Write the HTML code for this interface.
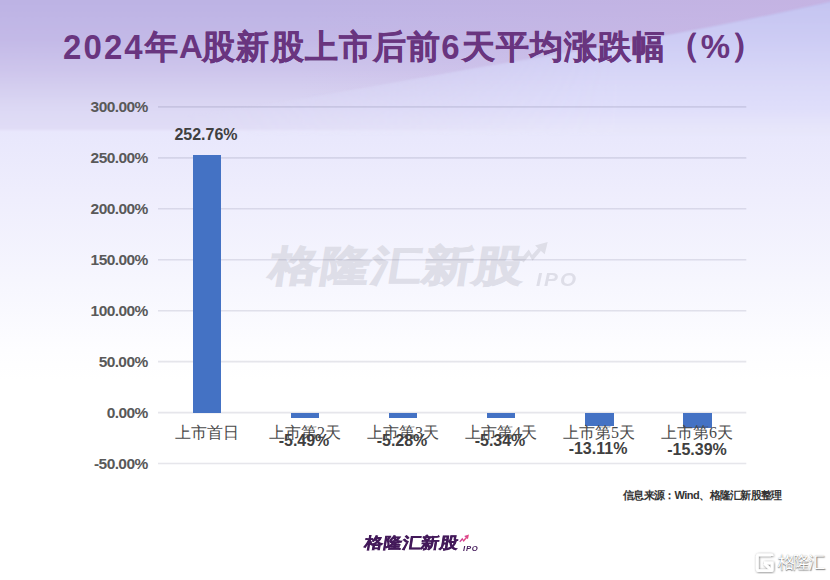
<!DOCTYPE html>
<html><head><meta charset="utf-8">
<style>
html,body{margin:0;padding:0;}
body{width:830px;height:580px;overflow:hidden;position:relative;font-family:"Liberation Sans",sans-serif;
background:linear-gradient(180deg,#e8e7fc 0px,#e8e7fc 130px,#efeefd 200px,#f6f6fe 280px,#fdfdff 350px,#ffffff 380px,#ffffff 580px);}
.abs{position:absolute;}
#bg{position:absolute;left:0;top:0;}
#title{position:absolute;left:63px;top:25px;font-size:33px;font-weight:bold;color:#69357f;white-space:nowrap;letter-spacing:1.15px;-webkit-text-stroke:0.4px #69357f;}
#title span.l{-webkit-text-stroke:0;}
#title span.d{display:inline-block;transform-origin:50% 80%;transform:translateY(0.8px) scaleY(1.07);}
.yl{position:absolute;right:682.4px;font-size:15.5px;letter-spacing:-0.6px;font-weight:bold;color:#595959;text-align:right;white-space:nowrap;line-height:16px;}
.bar{position:absolute;width:28.3px;background:#4472c4;}
.dl{position:absolute;font-size:16px;font-weight:bold;color:#404040;white-space:nowrap;line-height:18px;transform:translateX(-50%);}
.cl{position:absolute;font-family:"Liberation Serif",serif;font-size:16px;color:#4a4a4a;white-space:nowrap;line-height:18px;transform:translateX(-50%);}
#src{position:absolute;left:623px;top:487.5px;font-size:11px;line-height:14px;letter-spacing:-0.7px;font-weight:bold;color:#333;white-space:nowrap;}

.logo{position:absolute;white-space:nowrap;}
.logo .zh{position:absolute;left:0;top:0;font-weight:900;font-size:41.5px;line-height:44px;letter-spacing:0.4px;transform-origin:0 0;transform:skewX(-9deg) scaleX(1.2);}
.logo .ipo{position:absolute;font-weight:bold;font-style:italic;font-size:18.5px;line-height:18px;letter-spacing:2px;transform-origin:0 0;transform:scaleX(1.12);}
#wm{left:274px;top:244px;color:#dedee8;}
#wm .zh{-webkit-text-stroke:1.3px #dedee8;}
#blogo{left:366px;top:534.8px;color:#43195a;transform-origin:0 0;transform:scale(0.37);}
#blogo .zh{-webkit-text-stroke:1.5px #43195a;}
#brw{position:absolute;left:777.5px;top:552.5px;font-size:17px;line-height:20px;color:#fff;font-weight:500;letter-spacing:-1.6px;text-shadow:0.6px 0.6px 1.2px rgba(0,0,0,0.55),0 0 1px rgba(0,0,0,0.25);white-space:nowrap;}
</style></head><body>
<svg id="bg" width="830" height="580">
  <defs>
    <linearGradient id="top" x1="0" y1="0" x2="0" y2="130" gradientUnits="userSpaceOnUse">
      <stop offset="0" stop-color="#bdb3e4"/>
      <stop offset="0.3" stop-color="#c3b9e7"/>
      <stop offset="0.55" stop-color="#cec6ec"/>
      <stop offset="0.83" stop-color="#dcd8f4"/>
      <stop offset="1" stop-color="#e1ddf6"/>
    </linearGradient>
    <linearGradient id="band" x1="0" y1="0" x2="0" y2="130" gradientUnits="userSpaceOnUse">
      <stop offset="0" stop-color="#c4c4f1"/>
      <stop offset="0.3" stop-color="#cdccf4"/>
      <stop offset="0.62" stop-color="#d9d8f8"/>
      <stop offset="0.85" stop-color="#e0dffa"/>
      <stop offset="1" stop-color="#e7e6fa"/>
    </linearGradient>
    <linearGradient id="fade" x1="0" y1="0" x2="830" y2="0" gradientUnits="userSpaceOnUse">
      <stop offset="0.22" stop-color="#000"/>
      <stop offset="0.75" stop-color="#fff"/>
    </linearGradient>
    <linearGradient id="pinkh" x1="300" y1="0" x2="830" y2="0" gradientUnits="userSpaceOnUse">
      <stop offset="0" stop-color="#cbb4e2" stop-opacity="0"/>
      <stop offset="1" stop-color="#cbb4e2" stop-opacity="0.55"/>
    </linearGradient>
    <mask id="bm" maskUnits="userSpaceOnUse" x="0" y="0" width="830" height="140"><rect x="0" y="0" width="830" height="140" fill="url(#fade)"/></mask>
    <filter id="bl" x="-5%" y="-20%" width="110%" height="140%"><feGaussianBlur stdDeviation="1.2"/></filter>
    <filter id="bl2" x="-5%" y="-20%" width="110%" height="140%"><feGaussianBlur stdDeviation="1"/></filter>
  </defs>
  <g filter="url(#bl2)"><rect x="-10" y="-10" width="850" height="140" fill="url(#top)"/></g>
  <path d="M-10,-10 L840,-10 L840,0 L830,2.0 L800,8.5 L770,14.9 L740,21.1 L710,27.1 L680,32.8 L650,38.3 L620,43.6 L590,48.8 L560,53.9 L530,59.0 L500,64.0 L470,69.1 L440,74.4 L410,79.7 L380,85.0 L350,90.3 L320,95.4 L290,100.4 L260,105.0 L230,109.4 L200,113.4 L170,116.9 L140,120.0 L110,122.9 L80,125.4 L50,127.8 L20,129.8 L0,131 Z" fill="url(#pinkh)"/>
  <g mask="url(#bm)"><path filter="url(#bl)" d="M840,-2 L830,2.0 L800,8.5 L770,14.9 L740,21.1 L710,27.1 L680,32.8 L650,38.3 L620,43.6 L590,48.8 L560,53.9 L530,59.0 L500,64.0 L470,69.1 L440,74.4 L410,79.7 L380,85.0 L350,90.3 L320,95.4 L290,100.4 L260,105.0 L230,109.4 L200,113.4 L170,116.9 L140,120.0 L110,122.9 L80,125.4 L50,127.8 L20,129.8 L0,131 L0,134 L840,134 Z" fill="url(#band)"/></g>
</svg>
<div id="title"><span class="l d" style="letter-spacing:2.1px">2024</span>年<span class="l" style="letter-spacing:-0.6px">A</span>股新股上市后前<span class="l d" style="letter-spacing:2.1px">6</span>天平均涨跌幅<span style="position:relative;top:-2.5px">（</span><span class="l" style="letter-spacing:1.2px">%</span><span style="position:relative;top:-2.5px">）</span></div>

<div id="wm" class="logo"><div class="zh">格隆汇新股</div><div class="ipo" style="left:262px;top:27px">IPO</div></div>
<svg class="abs" style="left:0;top:0" width="830" height="580"><g fill="#dedee8"><path d="M520.5,259.5 L528.8,249.5 L532,255 L538.5,247.8 L541.2,250.5 L532.5,260.8 L529.3,255.2 L523.6,262.5 Z"/><path d="M535,245.6 L547.7,241.9 L544.7,254.3 Z"/></g></svg>
<svg class="abs" style="left:0;top:0" width="830" height="580"><g stroke="rgba(80,80,110,0.14)" stroke-width="1.6"><line x1="158" x2="746.3" y1="106.90" y2="106.90"/><line x1="158" x2="746.3" y1="157.85" y2="157.85"/><line x1="158" x2="746.3" y1="208.80" y2="208.80"/><line x1="158" x2="746.3" y1="259.75" y2="259.75"/><line x1="158" x2="746.3" y1="310.70" y2="310.70"/><line x1="158" x2="746.3" y1="361.65" y2="361.65"/><line x1="158" x2="746.3" y1="412.60" y2="412.60"/><line x1="158" x2="746.3" y1="463.55" y2="463.55"/></g></svg>

<div class="yl" style="top:98.5px">300.00%</div>
<div class="yl" style="top:149.5px">250.00%</div>
<div class="yl" style="top:200.5px">200.00%</div>
<div class="yl" style="top:251.5px">150.00%</div>
<div class="yl" style="top:302.5px">100.00%</div>
<div class="yl" style="top:353.5px">50.00%</div>
<div class="yl" style="top:404.5px">0.00%</div>
<div class="yl" style="top:455.5px">-50.00%</div>

<div class="bar" style="left:193.1px;top:155.1px;height:257.5px"></div>
<div class="bar" style="left:291.1px;top:412.6px;height:5.6px"></div>
<div class="bar" style="left:389.2px;top:412.6px;height:5.4px"></div>
<div class="bar" style="left:487.2px;top:412.6px;height:5.4px"></div>
<div class="bar" style="left:585.3px;top:412.6px;height:13.4px"></div>
<div class="bar" style="left:683.4px;top:412.6px;height:15.7px"></div>

<div class="cl" style="left:207px;top:424px">上市首日</div>
<div class="cl" style="left:305px;top:424px">上市第2天</div>
<div class="cl" style="left:403px;top:424px">上市第3天</div>
<div class="cl" style="left:501px;top:424px">上市第4天</div>
<div class="cl" style="left:599px;top:424px">上市第5天</div>
<div class="cl" style="left:697px;top:424px">上市第6天</div>

<div class="dl" style="left:206px;top:126px">252.76%</div>
<div class="dl" style="left:304px;top:431.5px">-5.49%</div>
<div class="dl" style="left:402px;top:431.5px">-5.28%</div>
<div class="dl" style="left:500px;top:431.5px">-5.34%</div>
<div class="dl" style="left:598px;top:440px">-13.11%</div>
<div class="dl" style="left:697px;top:441px">-15.39%</div>

<div id="blogo" class="logo"><div class="zh">格隆汇新股</div><div class="ipo" style="left:262px;top:27px">IPO</div></div>
<svg class="abs" style="left:0;top:0" width="830" height="580"><defs><linearGradient id="pk" x1="0" x2="1"><stop offset="0" stop-color="#c23aa0"/><stop offset="1" stop-color="#f0507a"/></linearGradient></defs><g fill="url(#pk)"><path d="M459.3,541.5 L462.3,537.8 L463.5,539.8 L466,537 L467,538 L463.6,542 L462.4,539.9 L460.2,542.3 Z"/><path d="M464.2,536 L469,534.6 L467.9,539.3 Z"/></g></svg>
<svg class="abs" style="left:0;top:0" width="830" height="580"><defs><filter id="sh" x="-20%" y="-20%" width="140%" height="140%"><feDropShadow dx="0.5" dy="0.5" stdDeviation="0.8" flood-color="#000" flood-opacity="0.55"/></filter></defs>
<g filter="url(#sh)" fill="none" stroke="#fff" stroke-width="2.8" stroke-linejoin="round"><path d="M772,556 L772,555.5 Q772,554.8 771,554.8 L759,554.8 Q757.3,554.8 757.3,556.5 L757.3,569 Q757.3,570.7 759,570.7 L771,570.7 Q772.2,570.7 772.2,569.5 L772.2,563 L764,563"/><path d="M764.5,563.5 L771,570"/></g></svg>
<div id="brw">格隆汇</div>
<div id="src">信息来源：<span style="letter-spacing:-0.5px">Wind</span>、格隆汇新股整理</div>
</body></html>
